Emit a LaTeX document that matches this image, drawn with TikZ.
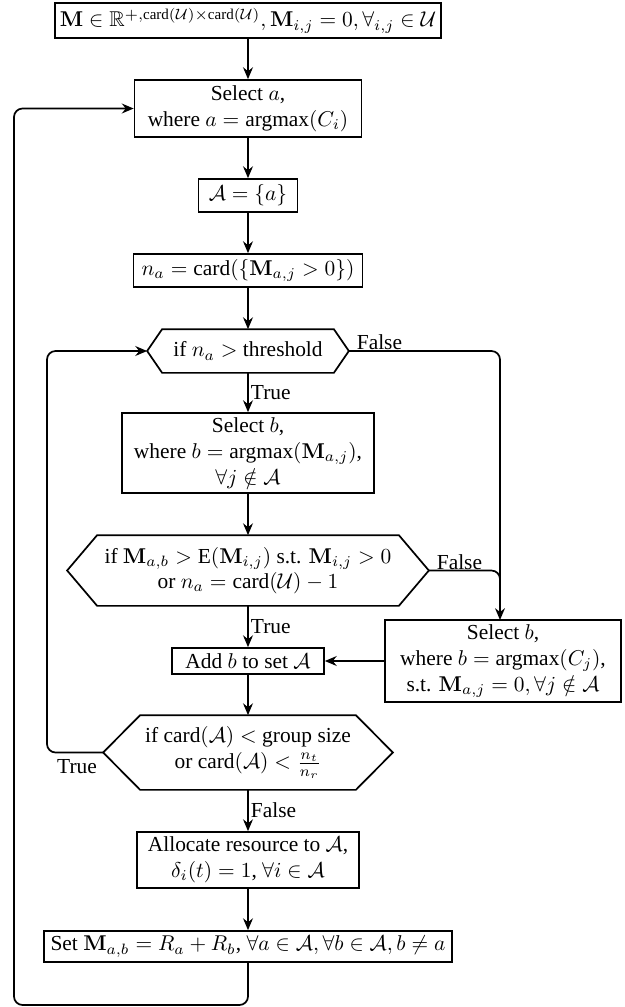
\documentclass[tikz,border=0pt]{standalone}
\usepackage{amsmath,amssymb}
\usepackage[no-math]{fontspec}
\setmainfont{Liberation Serif}
\usetikzlibrary{arrows.meta,calc}
\tikzset{
  bx/.style n args={2}{draw, rectangle, inner sep=0pt, align=center, minimum width=#1*0.467pt, minimum height=#2*0.467pt},
  hx/.style n args={2}{rectangle, inner sep=0pt, align=center, minimum width=#1*0.467pt, minimum height=#2*0.467pt},
  arr/.style={-{Stealth[length=5.5pt,width=4.6pt]}},
  lbl/.style={inner sep=1pt},
}
\begin{document}
\begin{tikzpicture}[x=0.467pt,y=-0.467pt,line width=0.8pt]
\useasboundingbox (0,0) rectangle (624,1007);
\node[bx={386}{35}] (top) at (248,20.5) {$\mathbf{M}\in\mathbb{R}^{+,\text{card}(\mathcal{U})\times\text{card}(\mathcal{U})}, \mathbf{M}_{i,j}=0,\forall_{i,j}\in\mathcal{U}$};
\node[bx={227}{57}] (selA) at (248,108.5) {Select $a$,\\ where $a=\text{argmax}(C_i)$};
\node[bx={99}{33}] (setA) at (248,195.5) {$\mathcal{A}=\{a\}$};
\node[bx={229}{33}] (na) at (248,270.5) {$n_a=\text{card}(\{\mathbf{M}_{a,j}>0\})$};
\node[hx={200}{42}] (h1) at (248,351) {if $n_a>$ threshold};
\node[bx={252}{80}] (selB) at (248,453) {Select $b$,\\ where $b=\text{argmax}(\mathbf{M}_{a,j})$,\\ $\forall j\notin\mathcal{A}$};
\node[hx={360}{69}] (h2) at (248,570.5) {if $\mathbf{M}_{a,b}>\text{E}(\mathbf{M}_{i,j})$ s.t. $\mathbf{M}_{i,j}>0$\\ or $n_a=\text{card}(\mathcal{U})-1$};
\node[bx={152}{26}] (addb) at (248,661) {Add $b$ to set $\mathcal{A}$};
\node[bx={236}{82}] (selB2) at (503,661) {Select $b$,\\ where $b=\text{argmax}(C_j)$,\\ s.t. $\mathbf{M}_{a,j}=0,\forall j\notin\mathcal{A}$};
\node[hx={288}{73}] (h3) at (248,752.5) {if card$(\mathcal{A})<$ group size\\ or card$(\mathcal{A})<\frac{n_t}{n_r}$};
\node[bx={222}{56}] (alloc) at (248,860) {Allocate resource to $\mathcal{A}$,\\ $\delta_i(t)=1$, $\forall i\in\mathcal{A}$};
\node[bx={408}{31}] (set) at (248,946.5) {Set $\mathbf{M}_{a,b}=R_a+R_b$, $\forall a\in\mathcal{A},\forall b\in\mathcal{A},b\neq a$};
% hexagon outlines
\foreach \n/\i in {h1/15,h2/30,h3/37}{
  \draw (\n.west) -- ($(\n.north west)+(\i,0)$) -- ($(\n.north east)+(-\i,0)$) -- (\n.east)
        -- ($(\n.south east)+(-\i,0)$) -- ($(\n.south west)+(\i,0)$) -- cycle;
}
% coordinates for routing
\coordinate (rt) at (500,620);
\coordinate (lt) at (47,351);
\coordinate (bt) at (14,1005);
% main flow
\draw[arr] (top) -- (selA);
\draw[arr] (selA) -- (setA);
\draw[arr] (setA) -- (na);
\draw[arr] (na) -- (h1.north);
\draw[arr] (h1.south) -- node[lbl,right] {True} (selB);
\draw[arr] (selB) -- (h2.north);
\draw[arr] (h2.south) -- node[lbl,right] {True} (addb);
\draw[arr] (addb) -- (h3.north);
\draw[arr] (h3.south) -- node[lbl,right] {False} (alloc);
\draw[arr] (alloc) -- (set);
% false branches
\draw[arr,rounded corners=4pt] (h1.east) -| (rt);
\node[lbl,anchor=south west] (f1) at ($(h1.east)+(5,2)$) {False};
\draw[rounded corners=4pt] (h2.east) -| ($(rt)+(0,-25)$);
\node[lbl,anchor=south west] (f2) at ($(h2.east)+(5,2)$) {False};
\draw[arr] (selB2.west) -- (addb.east);
% loop back from h3
\draw[arr,rounded corners=4pt] (h3.west) -| (lt) -- (h1.west);
\node[lbl,anchor=north] (t3) at (77,756) {True};
% outer loop
\draw[arr,rounded corners=4pt] (set.south) |- (bt) |- (selA.west);
\end{tikzpicture}
\end{document}
